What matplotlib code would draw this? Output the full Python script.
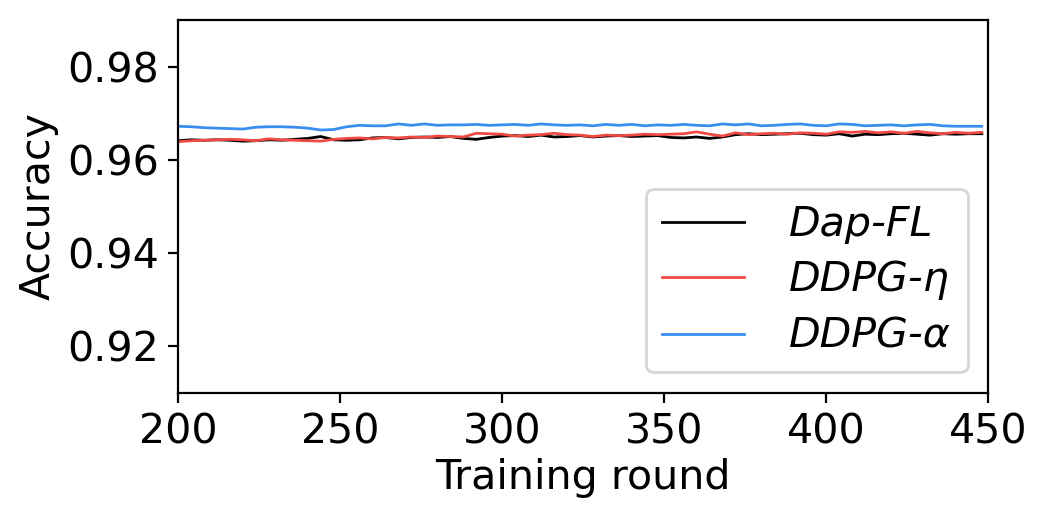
import matplotlib
matplotlib.use("Agg")
import matplotlib.pyplot as plt
import numpy as np

# ── 数据（从原图估读，每 4 轮取一个点）──────────────────
rounds = np.arange(200, 449, 4)

acc_dapfl = [
    0.9641, 0.9643, 0.9642, 0.9643, 0.9642, 0.9640, 0.9641, 0.9643, 0.9642, 0.9644,
    0.9646, 0.9650, 0.9643, 0.9642, 0.9643, 0.9647, 0.9648, 0.9645, 0.9648, 0.9649,
    0.9648, 0.9650, 0.9646, 0.9644, 0.9648, 0.9651, 0.9652, 0.9650, 0.9653, 0.9649,
    0.9650, 0.9652, 0.9649, 0.9651, 0.9652, 0.9650, 0.9651, 0.9652, 0.9648, 0.9647,
    0.9649, 0.9646, 0.9649, 0.9654, 0.9656, 0.9654, 0.9655, 0.9656, 0.9657, 0.9654,
    0.9653, 0.9656, 0.9651, 0.9655, 0.9654, 0.9656, 0.9657, 0.9655, 0.9653, 0.9656,
    0.9655, 0.9656, 0.9656,
]

acc_eta = [
    0.9639, 0.9641, 0.9642, 0.9643, 0.9644, 0.9643, 0.9641, 0.9645, 0.9643, 0.9642,
    0.9641, 0.9640, 0.9644, 0.9646, 0.9647, 0.9645, 0.9648, 0.9647, 0.9649, 0.9648,
    0.9651, 0.9650, 0.9649, 0.9657, 0.9656, 0.9655, 0.9651, 0.9653, 0.9654, 0.9657,
    0.9654, 0.9653, 0.9650, 0.9653, 0.9652, 0.9653, 0.9655, 0.9654, 0.9655, 0.9656,
    0.9660, 0.9655, 0.9651, 0.9658, 0.9654, 0.9656, 0.9657, 0.9655, 0.9658, 0.9657,
    0.9655, 0.9660, 0.9659, 0.9661, 0.9658, 0.9660, 0.9657, 0.9661, 0.9658, 0.9656,
    0.9659, 0.9657, 0.9659,
]

acc_alpha = [
    0.9672, 0.9671, 0.9669, 0.9668, 0.9667, 0.9666, 0.9670, 0.9671, 0.9671, 0.9670,
    0.9668, 0.9664, 0.9665, 0.9671, 0.9674, 0.9673, 0.9673, 0.9677, 0.9674, 0.9677,
    0.9674, 0.9675, 0.9675, 0.9676, 0.9674, 0.9675, 0.9676, 0.9674, 0.9677, 0.9675,
    0.9674, 0.9675, 0.9673, 0.9676, 0.9674, 0.9676, 0.9673, 0.9675, 0.9674, 0.9676,
    0.9674, 0.9673, 0.9677, 0.9675, 0.9677, 0.9673, 0.9674, 0.9676, 0.9677, 0.9674,
    0.9673, 0.9677, 0.9676, 0.9673, 0.9674, 0.9675, 0.9673, 0.9675, 0.9676, 0.9673,
    0.9672, 0.9672, 0.9672,
]

labels = ["Dap-FL", "DDPG-η", "DDPG-α"]
xticks = [200, 250, 300, 350, 400, 450]
yticks = [0.92, 0.94, 0.96, 0.98]

# ── 配色 ──
colors = ["#000000", "#f04a43", "#3a8ef0"]

fig = plt.figure(figsize=(5.24, 2.63), dpi=200)
ax = fig.add_axes([0.170, 0.253, 0.773, 0.709])

for ys, lab, col in zip([acc_dapfl, acc_eta, acc_alpha], labels, colors):
    ax.plot(rounds, ys, color=col, lw=1.0, label=lab)

ax.set_xlim(200, 450)
ax.set_ylim(0.91, 0.99)
ax.set_xticks(xticks)
ax.set_yticks(yticks)
ax.tick_params(labelsize=14.8)
ax.set_xlabel("Training round", fontsize=14.8, labelpad=2)
ax.set_ylabel("Accuracy", fontsize=14.8, labelpad=3)

ax.legend(loc="lower right", prop={"size": 14.8, "style": "italic"},
          handlelength=2.0, handletextpad=1.1, labelspacing=0.4)

fig.savefig("out.png", dpi=200)
